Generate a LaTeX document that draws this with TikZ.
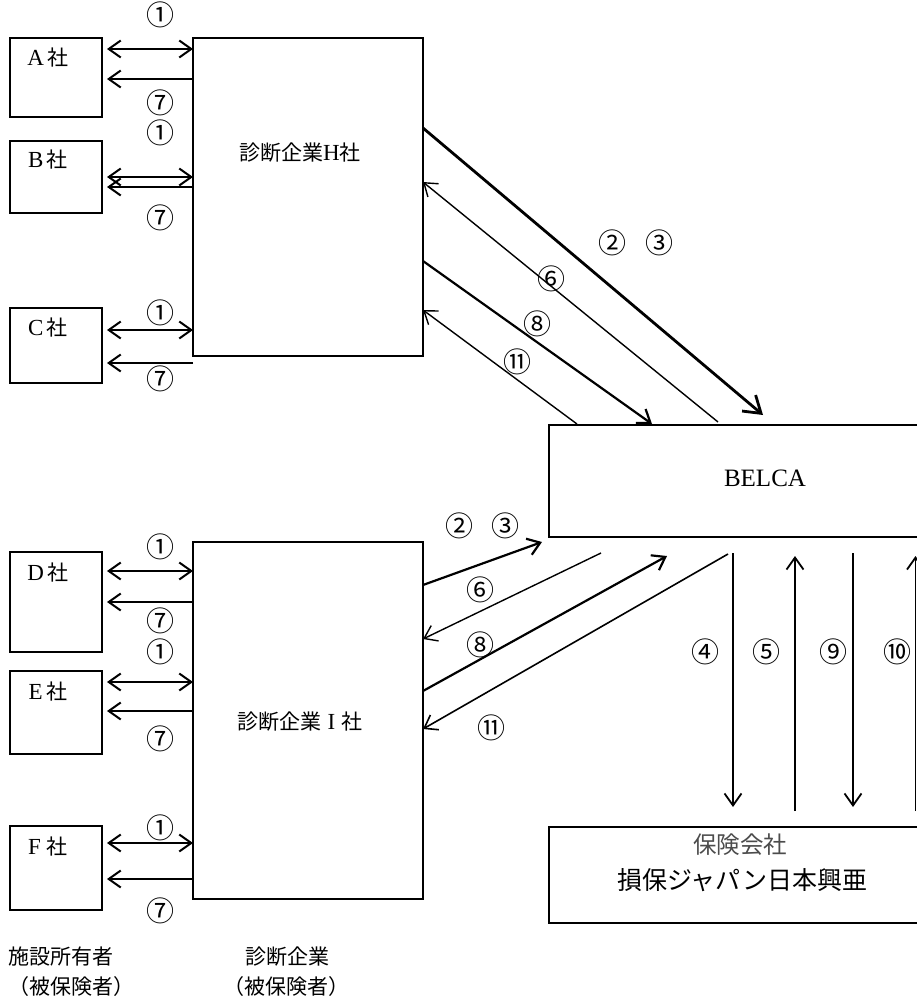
\documentclass[tikz,border=0pt]{standalone}
\usepackage{fontspec}
\setmainfont{Liberation Serif}
\newfontfamily\jp{Noto Sans CJK JP}
\usetikzlibrary{arrows.meta}
\newcommand\latn[1]{{\rmfamily\fontsize{23}{23}\selectfont #1}}
\tikzset{
  box/.style={draw, line width=1.3pt, rectangle, inner sep=0pt, outer sep=0pt},
  tipA/.tip={Straight Barb[length=12pt,width=17pt]},
  tipB/.tip={Straight Barb[length=16pt,width=21pt]},
  harr/.style={line width=2pt, -tipA},
  hdbl/.style={line width=2pt, tipA-tipA},
  thin/.style={line width=1.4pt, -tipA},
  mid/.style={line width=2.2pt, -tipA},
  thick/.style={line width=2.8pt, -tipB},
  vert/.style={line width=1.8pt, -tipA},
  num/.style={font=\jp\fontsize{28}{28}\selectfont, inner sep=0pt},
  txt/.style={font=\jp\fontsize{21}{21}\selectfont, inner sep=0pt},
}
\begin{document}
\begin{tikzpicture}[x=1pt,y=-1pt]
\clip (0,0) rectangle (917,1001);
\fill[white] (0,0) rectangle (917,1001);
% boxes
\node[box, minimum width=92pt, minimum height=79pt] (A) at (56,77.5) {};
\node[box, minimum width=92pt, minimum height=72pt] (B) at (56,177) {};
\node[box, minimum width=92pt, minimum height=75pt] (C) at (56,345.5) {};
\node[box, minimum width=92pt, minimum height=100pt] (D) at (56,602) {};
\node[box, minimum width=92pt, minimum height=83pt] (E) at (56,712.5) {};
\node[box, minimum width=92pt, minimum height=84pt] (F) at (56,868) {};
\node[box, minimum width=230pt, minimum height=318pt] (H) at (308,197) {};
\node[box, minimum width=230pt, minimum height=357pt] (I) at (308,720.5) {};
\node[box, minimum width=432pt, minimum height=112pt] (BEL) at (765,481) {};
\node[box, minimum width=386pt, minimum height=96pt] (INS) at (742,875) {};
% box texts
\node[txt] (At) at (48,58) {\latn{A}\,社};
\node[txt] (Bt) at (48,160) {\latn{B}\,社};
\node[txt] (Ct) at (48,328) {\latn{C}\,社};
\node[txt] (Dt) at (48,573) {\latn{D}\,社};
\node[txt] (Et) at (48,692) {\latn{E}\,社};
\node[txt] (Ft) at (48,847) {\latn{F}\;社};
\node[txt] (Ht) at (300,153) {診断企業\latn{H}社};
\node[txt] (It) at (300,722) {診断企業\;\latn{I}\;社};
\node[inner sep=0pt, font=\fontsize{25}{25}\selectfont] (Bt2) at (765,478) {BELCA};
\node[inner sep=0pt, font=\jp\fontsize{23.5}{23.5}\selectfont, text=black!70] (Ins1) at (740,845) {保険会社};
\node[inner sep=0pt, font=\jp\fontsize{25}{25}\selectfont] (Ins2) at (742,880) {損保ジャパン日本興亜};
\node[txt, anchor=west] (L1) at (8,957) {施設所有者};
\node[txt, anchor=west] (L2) at (8,987) {（被保険者）};
\node[txt] (L3) at (287,957) {診断企業};
\node[txt] (L4) at (286,987) {（被保険者）};
% owner <-> H arrows
\draw[hdbl, shorten <=5pt] (A.east |- 0,49) -- (H.west |- 0,49);
\draw[harr, shorten >=5pt] (H.west |- 0,79) -- (A.east |- 0,79);
\draw[hdbl, shorten <=5pt] (B.east |- 0,177) -- (H.west |- 0,177);
\draw[harr, shorten >=5pt] (H.west |- 0,187) -- (B.east |- 0,187);
\draw[hdbl, shorten <=5pt] (C.east |- 0,330) -- (H.west |- 0,330);
\draw[harr, shorten >=5pt] (H.west |- 0,363) -- (C.east |- 0,363);
\draw[hdbl, shorten <=5pt] (D.east |- 0,571) -- (I.west |- 0,571);
\draw[harr, shorten >=5pt] (I.west |- 0,602) -- (D.east |- 0,602);
\draw[hdbl, shorten <=5pt] (E.east |- 0,682) -- (I.west |- 0,682);
\draw[harr, shorten >=5pt] (I.west |- 0,711) -- (E.east |- 0,711);
\draw[hdbl, shorten <=5pt] (F.east |- 0,843) -- (I.west |- 0,843);
\draw[harr, shorten >=5pt] (I.west |- 0,879) -- (F.east |- 0,879);
\node[num] (nA1) at (160,15) {①};
\node[num] (nA7) at (160,103) {⑦};
\node[num] (nB1) at (160,133) {①};
\node[num] (nB7) at (160,218) {⑦};
\node[num] (nC1) at (160,313) {①};
\node[num] (nC7) at (160,379) {⑦};
\node[num] (nD1) at (160,547) {①};
\node[num] (nD7) at (160,621) {⑦};
\node[num] (nE1) at (160,652) {①};
\node[num] (nE7) at (160,739) {⑦};
\node[num] (nF1) at (160,828) {①};
\node[num] (nF7) at (160,911) {⑦};
% H <-> BELCA
\coordinate (h23) at (763,415);
\coordinate (h6) at (718,422);
\coordinate (h8) at (652,424);
\coordinate (h11) at (577,424);
\draw[thick] (H.east |- 0,128) -- (h23);
\draw[thin] (h6) -- (H.east |- 0,182);
\draw[mid] (H.east |- 0,261) -- (h8);
\draw[thin] (h11) -- (H.east |- 0,310);
\node[num] (t2) at (612,243) {②};
\node[num] (t3) at (659,243) {③};
\node[num] (t6) at (551,279) {⑥};
\node[num] (t8) at (537,324) {⑧};
\node[num] (t11) at (517,362) {⑪};
% I <-> BELCA
\coordinate (i23) at (542,542);
\coordinate (i6) at (601,553);
\coordinate (i8) at (667,556);
\coordinate (i11) at (728,554);
\draw[mid] (I.east |- 0,585) -- (i23);
\draw[thin] (i6) -- (I.east |- 0,639);
\draw[mid] (I.east |- 0,691) -- (i8);
\draw[line width=1.6pt, -tipA] (i11) -- (I.east |- 0,729);
\node[num] (b2) at (459,526) {②};
\node[num] (b3) at (505,526) {③};
\node[num] (b6) at (480,590) {⑥};
\node[num] (b8) at (480,645) {⑧};
\node[num] (b11) at (491,728) {⑪};
% BELCA <-> insurer
\coordinate (v4a) at (733,553); \coordinate (v4b) at (733,807);
\coordinate (v5a) at (795,811); \coordinate (v5b) at (795,556);
\coordinate (v9a) at (853,553); \coordinate (v9b) at (853,807);
\coordinate (v10a) at (915.5,811); \coordinate (v10b) at (915.5,556);
\draw[vert] (v4a) -- (v4b);
\draw[vert] (v5a) -- (v5b);
\draw[vert] (v9a) -- (v9b);
\draw[vert] (v10a) -- (v10b);
\node[num] (v4) at (705,652) {④};
\node[num] (v5) at (766,652) {⑤};
\node[num] (v9) at (833,652) {⑨};
\node[num] (v10) at (897,652) {⑩};
\end{tikzpicture}
\end{document}
